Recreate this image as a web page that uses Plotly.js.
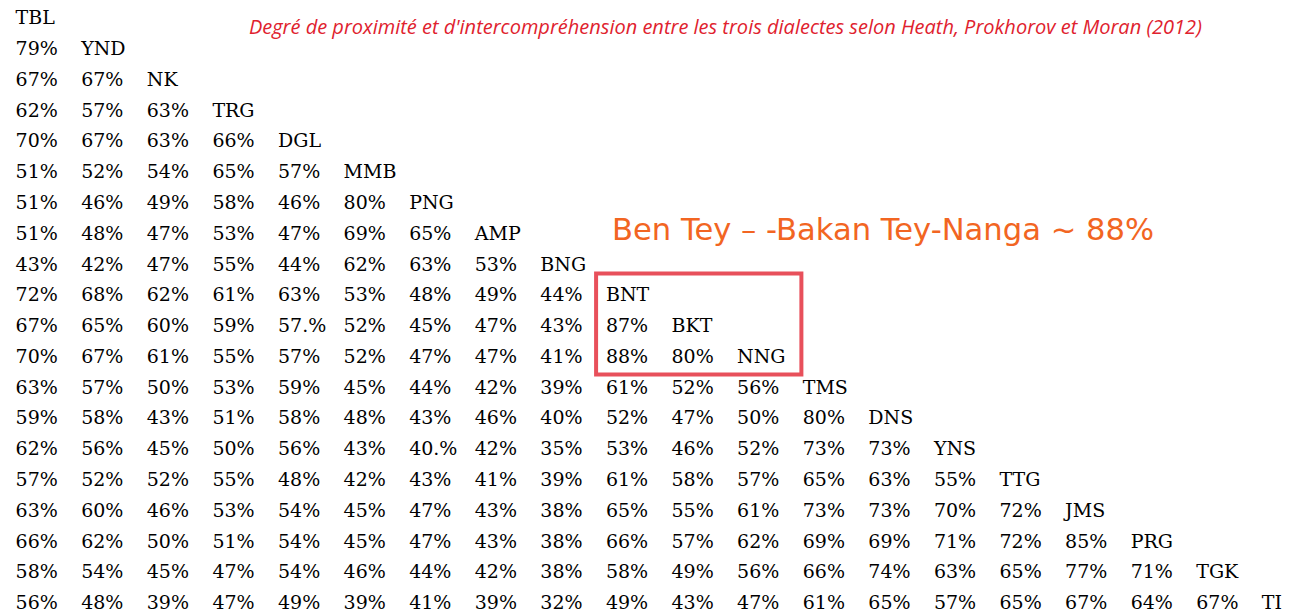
<!DOCTYPE html>
<html>
<head>
<meta charset="utf-8">
<script src="https://cdn.plot.ly/plotly-3.0.1.min.js"></script>
<style>html,body{margin:0;padding:0;background:#fff;}#chart{width:1293px;height:614px;}</style>
</head>
<body>
<div id="chart"></div>
<script>
const dialects = ["TBL","YND","NK","TRG","DGL","MMB","PNG","AMP","BNG","BNT","BKT","NNG","TMS","DNS","YNS","TTG","JMS","PRG","TGK","TI"];

const percentages = [
  [],
  ["79%"],
  ["67%","67%"],
  ["62%","57%","63%"],
  ["70%","67%","63%","66%"],
  ["51%","52%","54%","65%","57%"],
  ["51%","46%","49%","58%","46%","80%"],
  ["51%","48%","47%","53%","47%","69%","65%"],
  ["43%","42%","47%","55%","44%","62%","63%","53%"],
  ["72%","68%","62%","61%","63%","53%","48%","49%","44%"],
  ["67%","65%","60%","59%","57.%","52%","45%","47%","43%","87%"],
  ["70%","67%","61%","55%","57%","52%","47%","47%","41%","88%","80%"],
  ["63%","57%","50%","53%","59%","45%","44%","42%","39%","61%","52%","56%"],
  ["59%","58%","43%","51%","58%","48%","43%","46%","40%","52%","47%","50%","80%"],
  ["62%","56%","45%","50%","56%","43%","40.%","42%","35%","53%","46%","52%","73%","73%"],
  ["57%","52%","52%","55%","48%","42%","43%","41%","39%","61%","58%","57%","65%","63%","55%"],
  ["63%","60%","46%","53%","54%","45%","47%","43%","38%","65%","55%","61%","73%","73%","70%","72%"],
  ["66%","62%","50%","51%","54%","45%","47%","43%","38%","66%","57%","62%","69%","69%","71%","72%","85%"],
  ["58%","54%","45%","47%","54%","46%","44%","42%","38%","58%","49%","56%","66%","74%","63%","65%","77%","71%"],
  ["56%","48%","39%","47%","49%","39%","41%","39%","32%","49%","43%","47%","61%","65%","57%","65%","67%","64%","67%"]
];

const titleText = "Degré de proximité et d'intercompréhension entre les trois dialectes selon Heath, Prokhorov et Moran (2012)";
const noteText = "Ben Tey – -Bakan Tey-Nanga ~ 88%";

const vx = [], vy = [], vt = [];
percentages.forEach((row, r) => row.forEach((v, c) => { vx.push(c); vy.push(r); vt.push(v); }));
const lx = dialects.map((d, i) => i);
const ly = dialects.map((d, i) => i);

const cellFont = {family: "DejaVu Serif", size: 19, weight: "normal", color: "#000000"};

const traces = [
  {type: "scatter", mode: "text", x: vx, y: vy, text: vt, textposition: "middle right",
   textfont: cellFont, hoverinfo: "skip", cliponaxis: true, showlegend: false},
  {type: "scatter", mode: "text", x: lx, y: ly, text: dialects, textposition: "middle right",
   textfont: cellFont, hoverinfo: "skip", cliponaxis: true, showlegend: false}
];

const layout = {
  width: 1293, height: 614,
  margin: {l: 0, r: 0, t: 0, b: 0, pad: 0},
  paper_bgcolor: "#ffffff", plot_bgcolor: "#ffffff",
  showlegend: false,
  title: {text: titleText, x: 0.561, xanchor: "center", y: 0.956, yanchor: "middle", yref: "container",
          font: {family: "Open Sans", size: 20, style: "italic", color: "#e0222e"}},
  xaxis: {range: [-0.238, 19.475], showgrid: false, zeroline: false, showticklabels: false, showline: false, ticks: "", fixedrange: true},
  yaxis: {range: [19.31, -0.632], showgrid: false, zeroline: false, showticklabels: false, showline: false, ticks: "", fixedrange: true},
  shapes: [
    {type: "rect", xref: "x", yref: "y", x0: 8.85, x1: 11.98, y0: 8.25, y1: 11.53,
     line: {color: "#e8505b", width: 4}, fillcolor: "rgba(0,0,0,0)"}
  ],
  annotations: [
    {text: noteText, xref: "paper", yref: "paper", x: 0.4718, y: 0.627, xanchor: "left", yanchor: "middle",
     showarrow: false, font: {family: "DejaVu Sans", size: 30.6, color: "#f26522"}}
  ]
};

Plotly.newPlot("chart", traces, layout, {displayModeBar: false, staticPlot: true});
</script>
</body>
</html>
